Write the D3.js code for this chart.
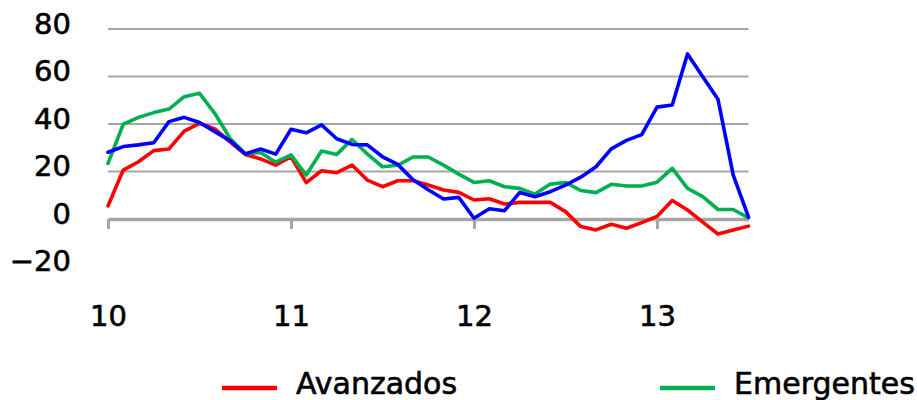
<!DOCTYPE html>
<html>
<head>
<meta charset="utf-8">
<script src="https://cdn.jsdelivr.net/npm/d3@7/dist/d3.min.js"></script>
<style>
  html, body { margin: 0; padding: 0; background: #ffffff; }
  svg { display: block; }
  text { font-family: "DejaVu Sans", Verdana, sans-serif; fill: #000; stroke: #000; stroke-width: 0.6px; }
</style>
</head>
<body>
<svg id="chart" width="917" height="400"></svg>
<script>
// Monthly series, January 2010 onwards (x expressed in years: 10 = 2010)
const startYear = 10;
const avanzados = [5.5, 20.6, 24.1, 28.8, 29.5, 37, 40.3, 37.9, 32.5, 27.2, 25.3, 22.7, 26.2, 15.3, 20.3, 19.5, 22.7, 16.4, 13.6, 16.1, 16.1, 14.3, 12.2, 11.2, 8, 8.5, 6.3, 7, 7, 7, 3.1, -3.2, -4.6, -2.2, -3.9, -1.5, 1.1, 7.8, 3.8, -1.3, -6.3, -4.6, -3.0];
const emergentes = [23.4, 39.9, 42.8, 44.8, 46.3, 51.5, 52.9, 44.5, 34, 27.5, 28, 23.9, 27, 18.5, 28.6, 27.2, 33.5, 27.4, 22, 22.6, 26.1, 26.1, 22.7, 18.9, 15.4, 16.1, 13.6, 12.9, 10.5, 14.7, 15.4, 12, 11.1, 14.6, 13.9, 13.9, 15.5, 21.3, 12.9, 9.4, 4, 4, 0.5];
const total = [28.1, 30.5, 31.2, 32.1, 41, 42.8, 40.6, 36.8, 33, 27.4, 29.5, 27.3, 37.8, 36.3, 39.6, 33.8, 31.4, 31.2, 26.2, 23, 16.5, 12.3, 8.4, 9.1, 0.3, 4.3, 3.5, 11.2, 9.4, 11.5, 14.3, 17.6, 22, 29.5, 33.1, 35.5, 47.1, 48, 69.5, 59.9, 50.4, 18.5, 0.8];

const yearTicks = [10, 11, 12, 13];
const valueTicks = [-20, 0, 20, 40, 60, 80];
const gridValues = [20, 40, 60, 80];

const seriesList = [
  { name: "Avanzados", values: avanzados, color: "#ff0000" },
  { name: "Emergentes", values: emergentes, color: "#00b050" },
  { name: "Total", values: total, color: "#0000ff" }
];

const svg = d3.select("#chart");
const gridColor = "#a6a6a6";

const x = d3.scaleLinear()
  .domain([startYear, startYear + (avanzados.length - 1) / 12])
  .range([108, 748.5]);
const y = d3.scaleLinear().domain([-20, 80]).range([266.5, 29]);

// horizontal gridlines
svg.append("g").selectAll("line")
  .data(gridValues)
  .join("line")
  .attr("x1", x.range()[0]).attr("x2", x.range()[1])
  .attr("y1", d => y(d)).attr("y2", d => y(d))
  .attr("stroke", gridColor)
  .attr("stroke-width", 2);

// value labels on the left
const yAxis = svg.append("g")
  .attr("transform", "translate(108,-5)")
  .call(d3.axisLeft(y).tickValues(valueTicks).tickSize(0).tickPadding(37)
    .tickFormat(d => d < 0 ? "\u2212" + Math.abs(d) : String(d)));
yAxis.select(".domain").remove();
yAxis.selectAll("text")
  .attr("font-size", 29)
  .style("font-family", "\"DejaVu Sans\", Verdana, sans-serif")
  .attr("fill", "#000");

// zero line with yearly ticks
const xAxis = svg.append("g")
  .attr("transform", `translate(0,${y(0)})`)
  .call(d3.axisBottom(x).tickValues(yearTicks).tickSize(10).tickSizeOuter(0).tickPadding(76)
    .tickFormat(d => String(d)));
xAxis.select(".domain")
  .attr("stroke", gridColor)
  .attr("stroke-width", 3.5);
xAxis.selectAll(".tick line")
  .attr("stroke", gridColor)
  .attr("stroke-width", 3);
xAxis.selectAll("text")
  .attr("font-size", 29)
  .style("font-family", "\"DejaVu Sans\", Verdana, sans-serif")
  .attr("fill", "#000");

// series lines
const line = d3.line()
  .x((d, i) => x(startYear + i / 12))
  .y(d => y(d));

svg.append("g").selectAll("path")
  .data(seriesList)
  .join("path")
  .attr("d", d => line(d.values))
  .attr("fill", "none")
  .attr("stroke", d => d.color)
  .attr("stroke-width", 3.6)
  .attr("stroke-linejoin", "round")
  .attr("stroke-linecap", "round");

// legend
const legendItems = [
  { name: "Avanzados", color: "#ff0000", x: 222 },
  { name: "Emergentes", color: "#00b050", x: 660 }
];
const legend = svg.append("g").selectAll("g")
  .data(legendItems)
  .join("g")
  .attr("transform", d => `translate(${d.x},388)`);
legend.append("line")
  .attr("x1", 0).attr("x2", 55)
  .attr("y1", 0).attr("y2", 0)
  .attr("stroke", d => d.color)
  .attr("stroke-width", 4.5);
legend.append("text")
  .attr("x", 74)
  .attr("y", 6)
  .attr("font-size", 30)
  .text(d => d.name);
</script>
</body>
</html>
